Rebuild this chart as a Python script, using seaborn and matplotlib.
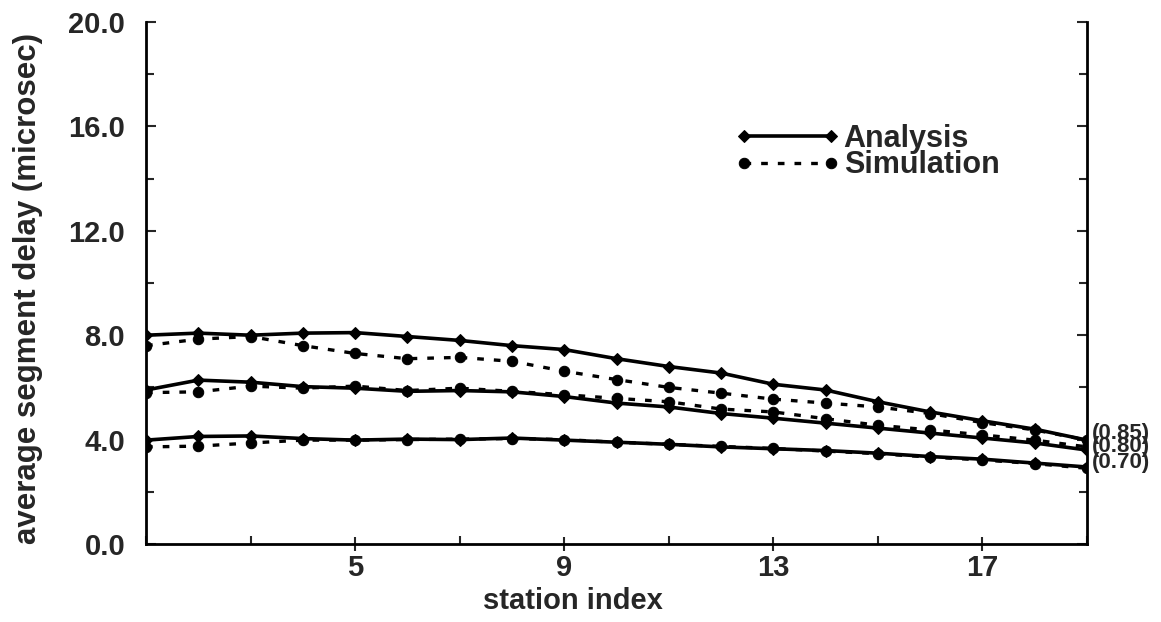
import pandas as pd
import matplotlib
matplotlib.use('Agg')
import matplotlib.pyplot as plt
from matplotlib.ticker import MultipleLocator, FormatStrFormatter
import seaborn as sns

sns.set_style('ticks')
plt.rcParams['font.family'] = ['Liberation Sans', 'DejaVu Sans']
plt.rcParams['font.weight'] = 'bold'

# station index 1..19
station = list(range(1, 20))

# load 0.85
ana_85 = [8.0, 8.08, 8.0, 8.08, 8.1, 7.95, 7.8, 7.6, 7.45, 7.1, 6.8, 6.55, 6.12, 5.9, 5.45, 5.06, 4.72, 4.4, 3.98]
sim_85 = [7.6, 7.85, 7.95, 7.6, 7.3, 7.1, 7.15, 7.0, 6.62, 6.3, 6.0, 5.78, 5.55, 5.4, 5.25, 5.0, 4.65, 4.37, 3.98]
# load 0.80
ana_80 = [5.9, 6.28, 6.2, 6.03, 5.97, 5.85, 5.88, 5.83, 5.65, 5.4, 5.25, 5.0, 4.82, 4.63, 4.44, 4.25, 4.06, 3.87, 3.6]
sim_80 = [5.8, 5.83, 6.05, 5.97, 6.05, 5.88, 5.97, 5.85, 5.72, 5.58, 5.45, 5.17, 5.06, 4.8, 4.55, 4.37, 4.18, 3.98, 3.72]
# load 0.70
ana_70 = [3.98, 4.12, 4.14, 4.04, 3.98, 4.02, 4.0, 4.06, 3.98, 3.9, 3.82, 3.72, 3.65, 3.58, 3.48, 3.35, 3.25, 3.1, 2.95]
sim_70 = [3.72, 3.75, 3.87, 3.98, 3.98, 4.0, 4.02, 4.04, 4.0, 3.9, 3.82, 3.74, 3.66, 3.56, 3.46, 3.33, 3.22, 3.08, 2.9]

loads = ['(0.85)', '(0.80)', '(0.70)']
load_label_y = [4.25, 3.72, 3.14]
analysis = [ana_85, ana_80, ana_70]
simulation = [sim_85, sim_80, sim_70]

fig = plt.figure(figsize=(11.61, 6.22), dpi=100)
ax = fig.add_axes([0.1258, 0.1254, 0.8105, 0.8392])

for i, load in enumerate(loads):
    sns.lineplot(x=station, y=analysis[i], ax=ax, color='black', linewidth=2.6,
                 marker='D', markersize=6.5, markeredgecolor='black',
                 label='Analysis' if i == 0 else None)
    sns.lineplot(x=station, y=simulation[i], ax=ax, color='black', linewidth=2.4,
                 linestyle=(0, (2, 3)), marker='o', markersize=7.5, markeredgecolor='black',
                 label='Simulation' if i == 0 else None)

ax.set_xlim(1, 19)
ax.set_ylim(0, 20)
ax.set_xticks([5, 9, 13, 17])
ax.set_xticks([1, 3, 7, 11, 15, 19], minor=True)
ax.yaxis.set_major_locator(MultipleLocator(4))
ax.yaxis.set_minor_locator(MultipleLocator(2))
ax.yaxis.set_major_formatter(FormatStrFormatter('%.1f'))

ax.tick_params(axis='both', which='major', labelsize=21, width=1.5, length=7, direction='in')
ax.tick_params(axis='y', which='major', pad=15)
ax.tick_params(axis='x', which='major', direction='inout', length=10, pad=2)
ax.tick_params(axis='both', which='minor', width=1.5, length=6, direction='in')
ax.tick_params(axis='y', which='both', right=True)
for lab in ax.get_xticklabels() + ax.get_yticklabels():
    lab.set_fontweight('bold')

for side in ['left', 'right', 'bottom']:
    ax.spines[side].set_linewidth(2)
    ax.spines[side].set_color('black')
ax.spines['top'].set_visible(False)

ax.set_xlabel('station index', fontsize=21, fontweight='bold')
ax.xaxis.set_label_coords(0.454, -0.082)
ax.set_ylabel('average segment delay (microsec)', fontsize=22.5, fontweight='bold')
ax.yaxis.set_label_coords(-0.109, 0.49)

# load labels at the right end of the curves
for load, yv in zip(loads, load_label_y):
    ax.text(19.1, yv, load, fontsize=16, fontweight='bold', va='center', ha='left')

leg = ax.legend(loc='upper left', bbox_to_anchor=(0.6125, 0.828), frameon=False,
                fontsize=22, handlelength=3.45, handletextpad=0.12, labelspacing=-0.12,
                borderaxespad=0, numpoints=2)
for t in leg.get_texts():
    t.set_fontweight('bold')

fig.savefig('out.png', dpi=100, facecolor='white')
